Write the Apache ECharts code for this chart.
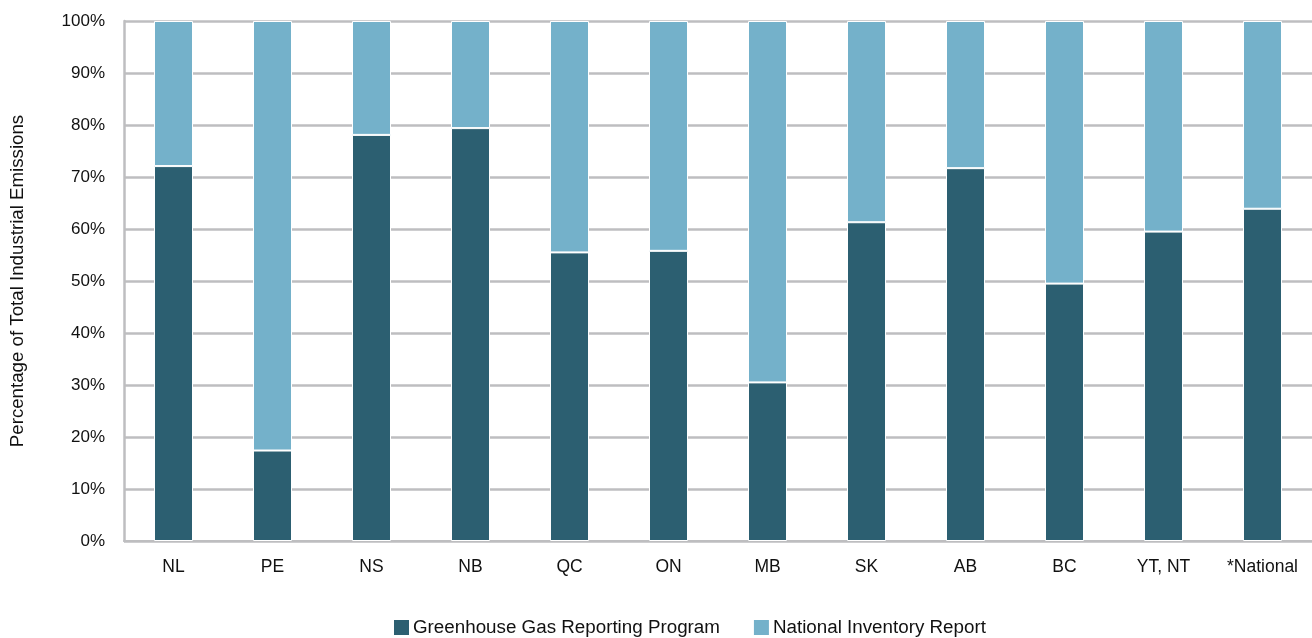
<!DOCTYPE html>
<html>
<head>
<meta charset="utf-8">
<script src="https://cdn.jsdelivr.net/npm/echarts@6/dist/echarts.min.js"></script>
<style>
  html, body { margin: 0; padding: 0; background: #fff; }
  #chart { width: 1312px; height: 638px; }
</style>
</head>
<body>
<div id="chart"></div>
<script>
// Provinces / territories
const regions = ['NL', 'PE', 'NS', 'NB', 'QC', 'ON', 'MB', 'SK', 'AB', 'BC', 'YT, NT', '*National'];
// Share of total industrial emissions covered by each source (%)
const ghgrpShare = [72.1, 17.4, 78.1, 79.4, 55.5, 55.8, 30.5, 61.3, 71.7, 49.5, 59.5, 63.9];
const nirShare   = [27.9, 82.6, 21.9, 20.6, 44.5, 44.2, 69.5, 38.7, 28.3, 50.5, 40.5, 36.1];
const yTicks = [0, 10, 20, 30, 40, 50, 60, 70, 80, 90, 100];

const FONT = '"Liberation Sans", Arial, sans-serif';
const DARK = '#2C5F71';
const LIGHT = '#74B1CA';
const GRID = '#BEBEC0';
const TEXT = '#111111';

const chart = echarts.init(document.getElementById('chart'), null, { renderer: 'canvas' });
chart.setOption({
  animation: false,
  backgroundColor: '#ffffff',
  grid: { left: 124, right: 0, top: 21, bottom: 97, containLabel: false, outerBoundsMode: 'none' },
  legend: {
    left: 392, top: 618, padding: 0,
    itemWidth: 17, itemHeight: 17, itemGap: 32,
    icon: 'rect',
    textStyle: { fontFamily: FONT, fontSize: 18.8, color: TEXT, padding: [0, 0, 0, -2] },
    data: ['Greenhouse Gas Reporting Program', 'National Inventory Report']
  },
  xAxis: {
    type: 'category',
    data: regions,
    axisLine: { lineStyle: { color: GRID, width: 2 } },
    axisTick: { show: false },
    axisLabel: { fontFamily: FONT, fontSize: 17.5, color: TEXT, margin: 17 }
  },
  yAxis: {
    type: 'value',
    min: yTicks[0], max: yTicks[yTicks.length - 1], interval: 10,
    name: 'Percentage of Total Industrial Emissions',
    nameLocation: 'middle', nameGap: 97, nameRotate: 90,
    nameTextStyle: { fontFamily: FONT, fontSize: 18.7, color: TEXT },
    axisLine: { show: true, lineStyle: { color: GRID, width: 2.5 } },
    axisTick: { show: false },
    axisLabel: { fontFamily: FONT, fontSize: 17, color: TEXT, margin: 19, formatter: v => v + '%' },
    splitLine: { lineStyle: { color: GRID, width: 2.5 } }
  },
  series: [
    {
      name: 'Greenhouse Gas Reporting Program',
      type: 'bar', stack: 'total', barWidth: 39,
      data: ghgrpShare,
      itemStyle: { color: DARK, borderColor: '#ffffff', borderWidth: 1 }
    },
    {
      name: 'National Inventory Report',
      type: 'bar', stack: 'total', barWidth: 39,
      data: nirShare,
      itemStyle: { color: LIGHT, borderColor: '#ffffff', borderWidth: 1 }
    }
  ]
});
</script>
</body>
</html>
